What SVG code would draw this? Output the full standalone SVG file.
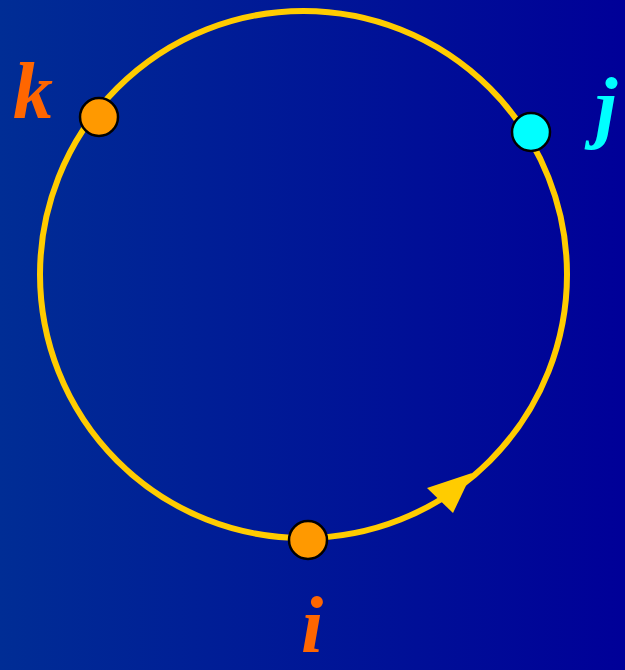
<svg xmlns="http://www.w3.org/2000/svg" width="625" height="670" viewBox="0 0 625 670">
<defs>
<linearGradient id="bg" x1="0" y1="0" x2="1" y2="0">
<stop offset="0" stop-color="#002d95"/>
<stop offset="1" stop-color="#000098"/>
</linearGradient>
<style>
.lbl{font-family:"Liberation Serif","DejaVu Serif",serif;font-style:italic;font-weight:bold;font-size:80px;text-anchor:middle}
.node{stroke:#000;stroke-width:2.5}
</style>
</defs>
<rect width="625" height="670" fill="url(#bg)"/>
<g id="connectors">
<circle cx="303.5" cy="274.5" r="263.5" fill="none" stroke="#ffcc00" stroke-width="6"/>
<polygon points="472,473 427,488 453,513" fill="#ffcc00"/>
</g>
<g id="node-k">
<circle class="node" cx="99" cy="117" r="19" fill="#ff9900"/>
<text class="lbl" x="33" y="118" fill="#ff6600">k</text>
</g>
<g id="node-j">
<circle class="node" cx="531" cy="132" r="19" fill="#00ffff"/>
<text class="lbl" x="606" y="133" fill="#00ffff">j</text>
</g>
<g id="node-i">
<circle class="node" cx="308" cy="540" r="19" fill="#ff9900"/>
<text class="lbl" x="312" y="652" fill="#ff6600">i</text>
</g>
</svg>
